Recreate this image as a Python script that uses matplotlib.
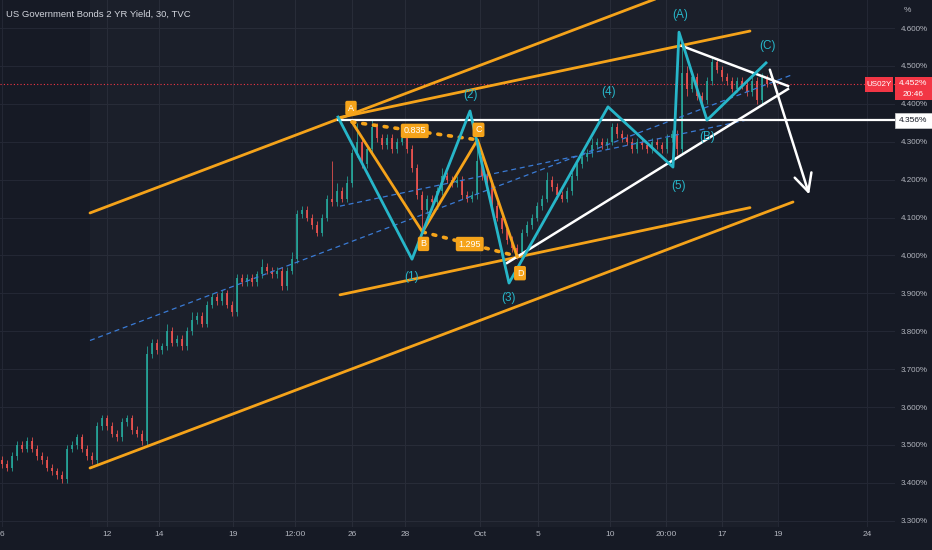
import matplotlib
matplotlib.use("Agg")
import matplotlib.pyplot as plt
from matplotlib.patches import Rectangle, FancyArrowPatch

# ---- chart data (30 min candles, aggregated) ----
closes = [
    3.45, 3.44, 3.47, 3.50, 3.49, 3.51, 3.49, 3.47, 3.46, 3.44,
    3.43, 3.42, 3.41, 3.49, 3.50, 3.52, 3.49, 3.47, 3.46, 3.55,
    3.57, 3.55, 3.53, 3.52, 3.56, 3.57, 3.54, 3.53, 3.51, 3.74,
    3.77, 3.75, 3.76, 3.80, 3.77, 3.78, 3.76, 3.80, 3.83, 3.84,
    3.82, 3.87, 3.89, 3.88, 3.90, 3.87, 3.85, 3.94, 3.93, 3.94,
    3.93, 3.95, 3.97, 3.96, 3.95, 3.96, 3.92, 3.96, 3.99, 4.11,
    4.12, 4.10, 4.08, 4.06, 4.10, 4.15, 4.14, 4.17, 4.15, 4.19,
    4.27, 4.30, 4.24, 4.28, 4.34, 4.31, 4.29, 4.31, 4.28, 4.30,
    4.31, 4.28, 4.23, 4.16, 4.12, 4.15, 4.14, 4.17, 4.21, 4.20,
    4.19, 4.20, 4.16, 4.15, 4.16, 4.25, 4.21, 4.19, 4.13, 4.10,
    4.07, 4.04, 4.02, 4.01, 4.06, 4.08, 4.10, 4.13, 4.15, 4.20,
    4.18, 4.16, 4.15, 4.17, 4.21, 4.24, 4.26, 4.27, 4.29, 4.30,
    4.29, 4.30, 4.34, 4.32, 4.31, 4.30, 4.28, 4.30, 4.29, 4.28,
    4.30, 4.29, 4.28, 4.31, 4.32, 4.28, 4.48, 4.44, 4.47, 4.42,
    4.41, 4.46, 4.51, 4.49, 4.47, 4.46, 4.44, 4.46, 4.45, 4.43,
    4.46, 4.41, 4.47, 4.452,
]
highs = [
    3.47, 3.46, 3.48, 3.51, 3.51, 3.52, 3.52, 3.50, 3.48, 3.47,
    3.45, 3.44, 3.43, 3.50, 3.51, 3.53, 3.53, 3.50, 3.48, 3.56,
    3.58, 3.58, 3.56, 3.54, 3.57, 3.58, 3.58, 3.55, 3.54, 3.76,
    3.78, 3.78, 3.77, 3.82, 3.81, 3.79, 3.79, 3.81, 3.85, 3.85,
    3.85, 3.88, 3.90, 3.90, 3.91, 3.91, 3.88, 3.95, 3.95, 3.95,
    3.95, 3.96, 3.99, 3.98, 3.97, 3.97, 3.97, 3.97, 4.01, 4.12,
    4.13, 4.13, 4.11, 4.09, 4.11, 4.16, 4.25, 4.19, 4.18, 4.21,
    4.28, 4.35, 4.31, 4.29, 4.36, 4.35, 4.32, 4.32, 4.32, 4.31,
    4.32, 4.32, 4.29, 4.24, 4.17, 4.16, 4.16, 4.18, 4.23, 4.22,
    4.21, 4.21, 4.21, 4.17, 4.17, 4.29, 4.26, 4.22, 4.20, 4.14,
    4.11, 4.08, 4.05, 4.03, 4.07, 4.09, 4.11, 4.14, 4.16, 4.22,
    4.21, 4.19, 4.17, 4.18, 4.22, 4.25, 4.27, 4.28, 4.31, 4.31,
    4.31, 4.31, 4.35, 4.35, 4.33, 4.32, 4.31, 4.31, 4.31, 4.30,
    4.31, 4.31, 4.30, 4.32, 4.33, 4.33, 4.55, 4.50, 4.48, 4.48,
    4.43, 4.47, 4.52, 4.52, 4.50, 4.48, 4.47, 4.47, 4.47, 4.46,
    4.47, 4.47, 4.48, 4.475,
]
lows = [
    3.44, 3.43, 3.43, 3.46, 3.48, 3.48, 3.48, 3.46, 3.45, 3.43,
    3.42, 3.41, 3.40, 3.40, 3.48, 3.49, 3.48, 3.46, 3.45, 3.45,
    3.54, 3.54, 3.52, 3.51, 3.51, 3.55, 3.53, 3.52, 3.50, 3.50,
    3.73, 3.74, 3.74, 3.75, 3.76, 3.76, 3.75, 3.75, 3.79, 3.82,
    3.81, 3.81, 3.86, 3.87, 3.87, 3.86, 3.84, 3.84, 3.92, 3.92,
    3.92, 3.92, 3.94, 3.95, 3.94, 3.94, 3.91, 3.91, 3.95, 3.98,
    4.10, 4.09, 4.07, 4.05, 4.05, 4.09, 4.13, 4.13, 4.14, 4.14,
    4.18, 4.26, 4.23, 4.23, 4.27, 4.30, 4.28, 4.28, 4.27, 4.27,
    4.29, 4.27, 4.22, 4.15, 4.07, 4.11, 4.13, 4.13, 4.16, 4.19,
    4.18, 4.18, 4.15, 4.14, 4.14, 4.15, 4.20, 4.18, 4.12, 4.09,
    4.06, 4.03, 4.01, 3.99, 4.00, 4.05, 4.07, 4.09, 4.12, 4.14,
    4.17, 4.15, 4.14, 4.14, 4.16, 4.20, 4.23, 4.25, 4.26, 4.28,
    4.28, 4.28, 4.29, 4.31, 4.30, 4.29, 4.27, 4.27, 4.28, 4.27,
    4.27, 4.28, 4.27, 4.27, 4.30, 4.265, 4.27, 4.42, 4.43, 4.41,
    4.40, 4.40, 4.45, 4.48, 4.46, 4.45, 4.43, 4.43, 4.44, 4.42,
    4.42, 4.40, 4.40, 4.445,
]
first_open = 3.46

# date labels on the time axis (position = candle index)
date_ticks = [0, 21, 31.4, 46.2, 58.6, 70, 80.6, 95.6, 107.2, 121.6, 132.8, 144, 155.2, 173]
date_labels = ["6", "12", "14", "19", "12:00", "26", "28", "Oct", "5", "10", "20:00", "17", "19", "24"]
price_ticks = [3.3, 3.4, 3.5, 3.6, 3.7, 3.8, 3.9, 4.0, 4.1, 4.2, 4.3, 4.4, 4.5, 4.6]

# drawings: (candle index, price)
outer_upper = [(17.6, 4.112), (158.2, 4.814)]
outer_lower = [(17.6, 3.439), (158.2, 4.141)]
inner_upper = [(67.6, 4.364), (149.6, 4.592)]
inner_lower = [(67.6, 3.896), (149.6, 4.126)]

wave_x = [67.2, 82, 93.6, 101.4, 121.2, 134.2, 135.4, 141, 152.8]
wave_y = [4.365, 3.990, 4.381, 3.927, 4.392, 4.233, 4.589, 4.357, 4.508]
wave_labels = ["", "(1)", "(2)", "(3)", "(4)", "(5)", "(A)", "(B)", "(C)"]

abcd_x = [70, 84.1, 95.1, 103]
abcd_y = [4.352, 4.062, 4.305, 3.998]
abcd_labels = ["A", "B", "C", "D"]
ratio_labels = ["0.835", "1.295"]

tri_lower = [(101, 3.980), (157.2, 4.439)]
tri_upper = [(136, 4.5525), (157.2, 4.447)]
arrow_pts = [(153.4, 4.497), (161.6, 4.154)]
level_start = 67.2
level_price = 4.356

last_price = 4.452
symbol = "US02Y"
countdown = "20:46"
title = "US Government Bonds 2 YR Yield, 30, TVC"

# ---- colours ----
BG = "#161a25"
GRID = "#232734"
TXT = "#b2b5be"
UP = "#26a69a"
DOWN = "#ef5350"
ORANGE = "#f5a31a"
CYAN = "#27b6c9"
BLUE = "#3a7bd5"
RED = "#f23645"

plt.rcParams["font.family"] = ["Liberation Sans", "DejaVu Sans"]

fig = plt.figure(figsize=(9.32, 5.5), dpi=100, facecolor=BG)
ax = fig.add_axes([0, 23 / 550, 895 / 932, 527 / 550])
ax.set_facecolor(BG)
ax.set_xlim(-0.4, 178.6)
ax.set_ylim(3.2834, 4.6739)
for s in ax.spines.values():
    s.set_visible(False)

ax.set_xticks(date_ticks)
ax.set_xticklabels(date_labels)
ax.set_yticks(price_ticks)
ax.set_yticklabels([f"{p:.3f}%" for p in price_ticks])
ax.yaxis.tick_right()
ax.tick_params(axis="both", length=0, colors=TXT, labelsize=6)
ax.tick_params(axis="y", pad=4, labelsize=5.8)
ax.tick_params(axis="x", pad=3)
ax.grid(True, color=GRID, lw=0.8)
ax.set_axisbelow(True)

# faint band behind the drawings
ax.axvspan(outer_upper[0][0], 155.2, color="white", alpha=0.025, lw=0)

# ---- candles ----
opens = [first_open] + closes[:-1]
idx = list(range(len(closes)))
cols = [UP if c >= o else DOWN for o, c in zip(opens, closes)]
ax.vlines(idx, lows, highs, colors=cols, lw=0.7, alpha=0.8, zorder=2)
bottoms = [min(o, c) for o, c in zip(opens, closes)]
heights = [max(abs(c - o), 0.003) for o, c in zip(opens, closes)]
ax.bar(idx, heights, bottom=bottoms, width=0.5, color=cols, alpha=0.85, lw=0, zorder=2)

# last price line
ax.axhline(last_price, color=RED, lw=0.8, ls=(0, (1, 2)), zorder=1)


def seg(pts, **kw):
    ax.plot([p[0] for p in pts], [p[1] for p in pts], **kw)


# ---- parallel channels ----
for up, lo in [(outer_upper, outer_lower), (inner_upper, inner_lower)]:
    seg(up, color=ORANGE, lw=2, solid_capstyle="round", zorder=4)
    seg(lo, color=ORANGE, lw=2, solid_capstyle="round", zorder=4)
    mid = [((a[0] + b[0]) / 2, (a[1] + b[1]) / 2) for a, b in zip(up, lo)]
    seg(mid, color=BLUE, lw=0.9, ls=(0, (4, 3)), zorder=3)

# ---- horizontal level and triangle ----
ax.plot([level_start, 178.6], [level_price, level_price], color="white", lw=1.6, zorder=4)
seg(tri_lower, color="white", lw=1.8, zorder=5)
seg(tri_upper, color="white", lw=1.8, zorder=5)
ax.add_patch(FancyArrowPatch(arrow_pts[0], arrow_pts[1], arrowstyle="->,head_length=0.9,head_width=0.45",
                             mutation_scale=14, color="white", lw=1.8, zorder=6))

# ---- harmonic ABCD ----
ax.plot(abcd_x, abcd_y, color=ORANGE, lw=2, zorder=5)
for a, b in [(0, 2), (1, 3)]:
    ax.plot([abcd_x[a], abcd_x[b]], [abcd_y[a], abcd_y[b]], color=ORANGE, lw=2.6,
            ls=(0, (0.8, 2.2)), dash_capstyle="round", zorder=5)
box = dict(boxstyle="round,pad=0.3,rounding_size=0.2", fc=ORANGE, ec="none")
abcd_off = [(-1, 14), (1, -12), (1, 10), (3, -17)]
for x, y, lab, off in zip(abcd_x, abcd_y, abcd_labels, abcd_off):
    ax.annotate(lab, (x, y), xytext=off, textcoords="offset pixels", ha="center", va="center",
                color="white", fontsize=6.5, bbox=box, zorder=8)
for (a, b), lab in zip([(0, 2), (1, 3)], ratio_labels):
    ax.text((abcd_x[a] + abcd_x[b]) / 2, (abcd_y[a] + abcd_y[b]) / 2, lab, ha="center", va="center",
            color="white", fontsize=6.5, bbox=box, zorder=8)

# ---- Elliott waves ----
ax.plot(wave_x, wave_y, color=CYAN, lw=2, zorder=6)
wave_off = [(0, 0), (0, -18), (0, 16), (0, -15), (1, 15), (6, -19), (1, 17), (0, -17), (1, 17)]
for x, y, lab, off in zip(wave_x, wave_y, wave_labels, wave_off):
    if lab:
        ax.annotate(lab, (x, y), xytext=off, textcoords="offset pixels", ha="center", va="center",
                    color=CYAN, fontsize=8.5, zorder=7)

# ---- price scale badges ----
yt = ax.get_yaxis_transform()
ax.add_patch(Rectangle((1.0, last_price - 0.042), 37 / 895, 0.0605, transform=yt, fc=RED, ec="none",
                       clip_on=False, zorder=10))
ax.text(1.0205, last_price + 0.002, f"{last_price:.3f}%", transform=yt, ha="center", va="center",
        color="white", fontsize=6, clip_on=False, zorder=11)
ax.text(1.0205, last_price - 0.027, countdown, transform=yt, ha="center", va="center",
        color="white", fontsize=6, clip_on=False, zorder=11)
ax.add_patch(Rectangle((865 / 895, last_price - 0.021), 28 / 895, 0.04, transform=yt, fc=RED, ec="none",
                       clip_on=False, zorder=10))
ax.text(879 / 895, last_price - 0.001, symbol, transform=yt, ha="center", va="center",
        color="white", fontsize=5.8, clip_on=False, zorder=11)
ax.add_patch(Rectangle((1.0, level_price - 0.019), 37 / 895, 0.038, transform=yt, fc="white",
                       ec="#d0d0d0", lw=0.5, clip_on=False, zorder=10))
ax.text(1.0205, level_price, f"{level_price:.3f}%", transform=yt, ha="center", va="center",
        color="#131722", fontsize=6, clip_on=False, zorder=11)

fig.text(904 / 932, 1 - 10 / 550, "%", color=TXT, fontsize=6, ha="left", va="center")
fig.text(6 / 932, 1 - 14 / 550, title, color="#d1d4dc", fontsize=6.8, ha="left", va="center")

fig.savefig("out.png", dpi=100, facecolor=BG)
